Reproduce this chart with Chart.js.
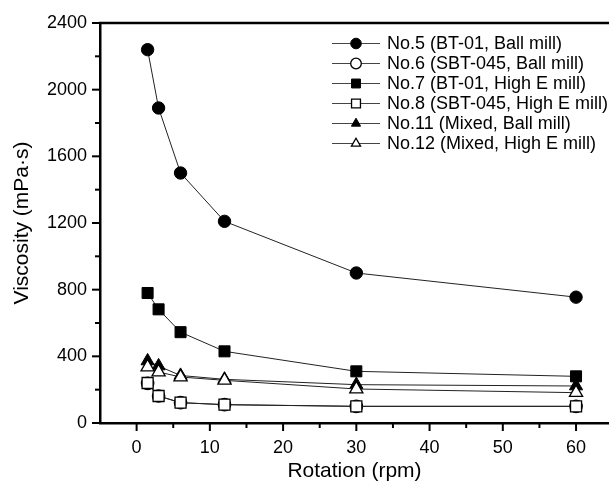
<!DOCTYPE html>
<html>
<head>
<meta charset="utf-8">
<script src="https://cdn.jsdelivr.net/npm/chart.js@4.4.0/dist/chart.umd.min.js"></script>
<style>
  body { margin: 0; background: #fff; }
  #wrap { width: 609px; height: 488px; }
</style>
</head>
<body>
<div id="wrap"><canvas id="viscChart" width="609" height="488"></canvas></div>
<script>
// Viscosity vs rotation speed
const rotation = [1.5, 3, 6, 12, 30, 60];
const no5  = [2240, 1890, 1500, 1210, 900, 755];
const no6  = [238, 162, 122, 110, 100, 100];
const no7  = [780, 682, 545, 430, 310, 280];
const no8  = [240, 162, 122, 110, 100, 100];
const no11 = [372, 342, 285, 262, 230, 222];
const no12 = [336, 306, 276, 256, 204, 182];

const seriesNames = [
    'No.5 (BT-01, Ball mill)',
    'No.6 (SBT-045, Ball mill)',
    'No.7 (BT-01, High E mill)',
    'No.8 (SBT-045, High E mill)',
    'No.11 (Mixed, Ball mill)',
    'No.12 (Mixed, High E mill)'
];
const seriesValues = [no5, no6, no7, no8, no11, no12];
const markerStyles = ['circle', 'circle', 'rect', 'rect', 'triangle', 'triangle'];
const markerFilled = [true, false, true, false, true, false];
const markerRadius = { circle: 6.2, rect: 7.8, triangle: 7.6 };

const xTicks = [0, 10, 20, 30, 40, 50, 60];
const yTicks = [0, 400, 800, 1200, 1600, 2000, 2400];

const FONT = '"Liberation Sans", Arial, Helvetica, sans-serif';

function drawMarker(ctx, style, filled, x, y, r) {
    ctx.save();
    ctx.beginPath();
    if (style === 'circle') {
        ctx.arc(x, y, r, 0, Math.PI * 2);
    } else if (style === 'rect') {
        const s = r * Math.SQRT1_2;
        ctx.rect(x - s, y - s, 2 * s, 2 * s);
    } else {
        ctx.moveTo(x, y - r);
        ctx.lineTo(x + r * 0.866, y + r * 0.5);
        ctx.lineTo(x - r * 0.866, y + r * 0.5);
        ctx.closePath();
    }
    ctx.fillStyle = filled ? '#000' : '#fff';
    ctx.fill();
    ctx.lineWidth = filled ? 1 : 1.3;
    ctx.strokeStyle = '#000';
    ctx.stroke();
    ctx.restore();
}

// top frame line + outward major/minor ticks
function drawFrame(chart) {
    const ctx = chart.ctx;
    const a = chart.chartArea;
    const xs = chart.scales.x, ys = chart.scales.y;
    ctx.save();
    ctx.strokeStyle = '#000';
    ctx.lineWidth = 2.5;
    ctx.beginPath();
    ctx.moveTo(a.left - 1, a.top);
    ctx.lineTo(chart.width, a.top);
    ctx.stroke();

    ctx.lineWidth = 2;
    for (let v = 0; v <= 60; v += 5) {
        const px = xs.getPixelForValue(v);
        const len = v % 10 === 0 ? 8 : 5;
        ctx.beginPath();
        ctx.moveTo(px, a.bottom);
        ctx.lineTo(px, a.bottom + len);
        ctx.stroke();
    }
    for (let v = 0; v <= 2400; v += 200) {
        const py = ys.getPixelForValue(v);
        const len = v % 400 === 0 ? 8 : 5;
        ctx.beginPath();
        ctx.moveTo(a.left, py);
        ctx.lineTo(a.left - len, py);
        ctx.stroke();
    }
    ctx.restore();
}

// legend with line + marker, like the original plot
function drawLegend(chart) {
    const ctx = chart.ctx;
    ctx.save();
    ctx.font = '18px ' + FONT;
    ctx.textBaseline = 'middle';
    ctx.fillStyle = '#000';
    seriesNames.forEach((name, i) => {
        const y = 43.5 + i * 20;
        ctx.strokeStyle = '#444';
        ctx.lineWidth = 1;
        ctx.beginPath();
        ctx.moveTo(332, y);
        ctx.lineTo(380, y);
        ctx.stroke();
        drawMarker(ctx, markerStyles[i], markerFilled[i], 356, y, markerStyles[i] === 'rect' ? 6.3 : 5.3);
        ctx.fillText(name, 387, y + 1);
    });
    ctx.restore();
}

const extrasPlugin = {
    id: 'extras',
    afterDraw(chart) {
        drawFrame(chart);
        drawLegend(chart);
    }
};

const datasets = seriesValues.map((vals, i) => ({
    label: seriesNames[i],
    data: rotation.map((x, j) => ({ x: x, y: vals[j] })),
    borderColor: '#222',
    borderWidth: 1,
    pointStyle: markerStyles[i],
    pointRadius: markerRadius[markerStyles[i]],
    pointBackgroundColor: markerFilled[i] ? '#000' : '#fff',
    pointBorderColor: '#000',
    pointBorderWidth: markerFilled[i] ? 1 : 1.3,
    tension: 0,
    order: seriesValues.length - i // later series drawn on top
}));

new Chart(document.getElementById('viscChart'), {
    type: 'line',
    data: { datasets: datasets },
    options: {
        responsive: false,
        animation: false,
        layout: { autoPadding: false, padding: { left: 0, top: 23, right: 0, bottom: 0 } },
        plugins: { legend: { display: false }, tooltip: { enabled: false } },
        scales: {
            x: {
                type: 'linear',
                min: -5,
                max: 64.5,
                afterFit: s => { s.height = 65; },
                afterBuildTicks: s => { s.ticks = xTicks.map(v => ({ value: v })); },
                grid: { display: false },
                border: { display: true, color: '#000', width: 2.5 },
                ticks: { color: '#000', padding: 6, font: { family: FONT, size: 18 }, maxRotation: 0 },
                title: {
                    display: true, text: 'Rotation (rpm)', color: '#000',
                    font: { family: FONT, size: 21 }, padding: { top: 4, bottom: 4 }
                }
            },
            y: {
                type: 'linear',
                min: 0,
                max: 2400,
                afterFit: s => { s.width = 100; },
                afterBuildTicks: s => { s.ticks = yTicks.map(v => ({ value: v })); },
                grid: { display: false },
                border: { display: true, color: '#000', width: 2.5 },
                ticks: {
                    color: '#000', padding: 5, font: { family: FONT, size: 18 },
                    callback: v => String(v)
                },
                title: {
                    display: true, text: 'Viscosity (mPa·s)', color: '#000',
                    font: { family: FONT, size: 21 }, padding: { top: 10, bottom: 0 }
                }
            }
        }
    },
    plugins: [extrasPlugin]
});
</script>
</body>
</html>
